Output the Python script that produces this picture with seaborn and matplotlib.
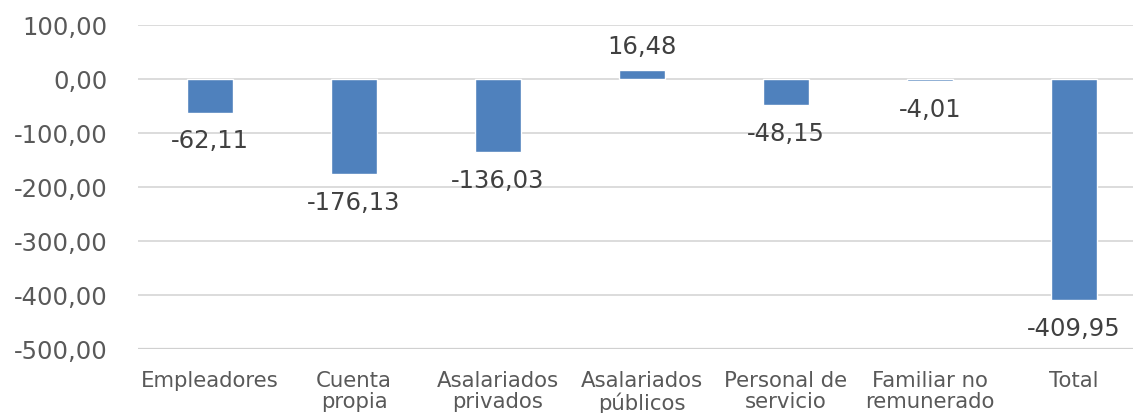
import pandas as pd
import matplotlib
matplotlib.use("Agg")
import matplotlib.pyplot as plt
import seaborn as sns

# Data
categorias = ["Empleadores", "Cuenta\npropia", "Asalariados\nprivados", "Asalariados\npúblicos",
              "Personal de\nservicio", "Familiar no\nremunerado", "Total"]
valores = [-62.11, -176.13, -136.03, 16.48, -48.15, -4.01, -409.95]
y_ticks = [100, 0, -100, -200, -300, -400, -500]

df = pd.DataFrame({"categoria": categorias, "valor": valores})

sns.set_style("white")
plt.rcParams["font.family"] = ["DejaVu Sans"]

fig = plt.figure(figsize=(11.33, 4.13), dpi=100)
ax = fig.add_axes([138 / 1133, 64 / 413, 1008 / 1133, 324 / 413])

sns.barplot(data=df, x="categoria", y="valor", color="#4F81BD", width=0.32,
            saturation=1, ax=ax, zorder=3)

ax.set_ylim(-500, 100)
ax.set_xlim(-0.5, len(categorias) - 0.5)
ax.set_yticks(y_ticks)
ax.set_yticklabels([f"{t:.2f}".replace(".", ",") for t in y_ticks])
ax.grid(axis="y", color="#D9D9D9", linewidth=1.3, zorder=0)
for s in ["top", "right", "left", "bottom"]:
    ax.spines[s].set_visible(False)
ax.axhline(-500, color="#D0D0D0", linewidth=1.6, zorder=1)

ax.tick_params(axis="y", length=0, pad=22, labelsize=17.5, labelcolor="#595959")
ax.tick_params(axis="x", length=0, pad=16, labelsize=15.3, labelcolor="#595959")
ax.set_xlabel("")
ax.set_ylabel("")

# Data labels
for i, v in enumerate(valores):
    txt = f"{v:.2f}".replace(".", ",")
    if v < 0:
        ax.annotate(txt, (i, v), xytext=(0, -12), textcoords="offset points",
                    ha="center", va="top", fontsize=17.5, color="#404040")
    else:
        ax.annotate(txt, (i, v), xytext=(0, 8), textcoords="offset points",
                    ha="center", va="bottom", fontsize=17.5, color="#404040")

for lbl in ax.get_xticklabels():
    lbl.set_linespacing(1.05)

fig.savefig("out.png", dpi=100)
